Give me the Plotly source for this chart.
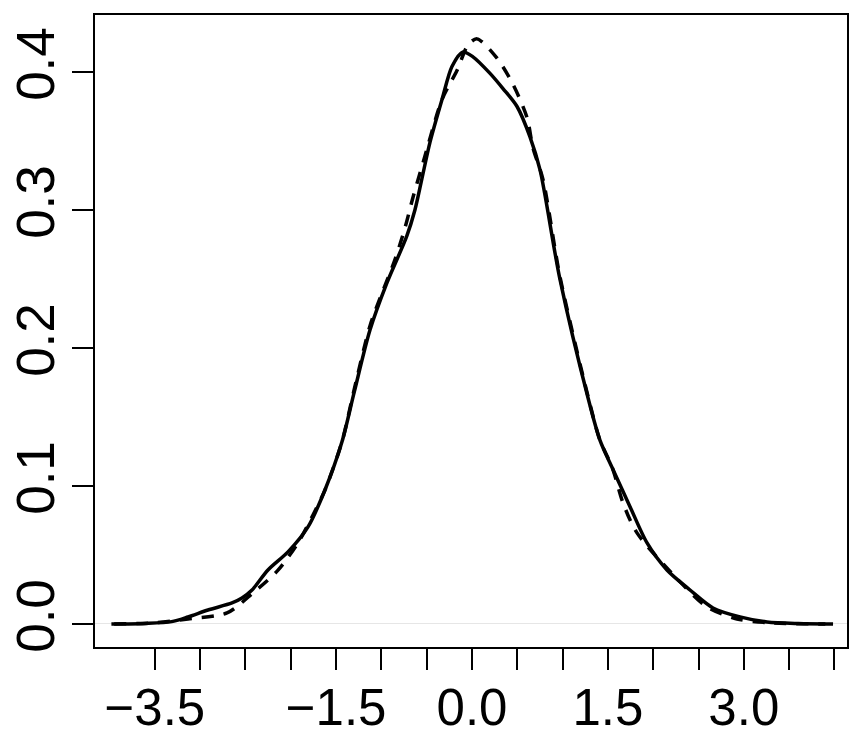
import plotly.graph_objects as go

# solid curve (density estimate)
solid_x = [-3.98, -3.6, -3.315, -3.135, -2.914, -2.649, -2.539, -2.428, -2.252,
           -2.031, -1.81, -1.623, -1.435, -1.3, -1.126, -0.94, -0.72, -0.63,
           -0.555, -0.464, -0.331, -0.221, -0.099, 0.011, 0.199, 0.342, 0.497,
           0.64, 0.751, 0.97, 1.284, 1.413, 1.556, 1.744, 1.932, 2.152, 2.406,
           2.66, 2.958, 3.256, 3.6, 3.985]
solid_y = [0.0, 0.0004, 0.0017, 0.0051, 0.0101, 0.0152, 0.0188, 0.0246, 0.0391,
           0.0522, 0.0703, 0.0971, 0.132, 0.168, 0.213, 0.247, 0.281, 0.300,
           0.322, 0.349, 0.380, 0.404, 0.4145, 0.411, 0.399, 0.388, 0.375,
           0.353, 0.329, 0.250, 0.163, 0.133, 0.112, 0.085, 0.0587, 0.0391, 0.0246,
           0.0116, 0.0051, 0.0014, 0.0003, 0.0]

# dashed curve (second density estimate)
dashed_x = [-3.95, -3.5, -3.135, -2.704, -2.417, -2.141, -1.921, -1.755, -1.623,
            -1.435, -1.3, -1.126, -0.98, -0.85, -0.74, -0.648, -0.541, -0.331,
            -0.166, -0.044, 0.055, 0.276, 0.453, 0.607, 0.673, 0.784, 0.97, 1.28,
            1.413, 1.55, 1.667, 1.821, 2.329, 2.594, 2.925, 3.3, 3.9]
dashed_y = [0.0, 0.0008, 0.0036, 0.008, 0.0225, 0.039, 0.0587, 0.079, 0.097,
            0.132, 0.170, 0.216, 0.242, 0.264, 0.287, 0.310, 0.334, 0.380,
            0.401, 0.4196, 0.424, 0.410, 0.391, 0.367, 0.345, 0.322, 0.252, 0.165,
            0.133, 0.113, 0.0877, 0.066, 0.0283, 0.0123, 0.0036, 0.0008, 0.0]

x_ticks = [-3.5, -3.0, -2.5, -2.0, -1.5, -1.0, -0.5, 0.0, 0.5, 1.0, 1.5, 2.0,
           2.5, 3.0, 3.5, 4.0]
x_labels = ["\u22123.5", "", "", "", "\u22121.5", "", "", "0.0", "", "", "1.5",
            "", "", "3.0", "", ""]
y_ticks = [0.0, 0.1, 0.2, 0.3, 0.4]
y_labels = ["0.0", "0.1", "0.2", "0.3", "0.4"]

fig = go.Figure()
fig.add_trace(
    go.Scatter(
        x=dashed_x,
        y=dashed_y,
        mode="lines",
        line=dict(color="black", width=3.5, dash="12px,10px", shape="spline", smoothing=0.8),
        showlegend=False,
    )
)
fig.add_trace(
    go.Scatter(
        x=solid_x,
        y=solid_y,
        mode="lines",
        line=dict(color="black", width=3.5, shape="spline", smoothing=0.8),
        showlegend=False,
    )
)

family = "Liberation Sans, Arial, sans-serif"
xfont = dict(family=family, size=51, color="black")
yfont = dict(family=family, size=53, color="black")

# page body has an 8px margin, so the figure is sized and shifted for it
fig.update_layout(
    width=854,
    height=738,
    margin=dict(l=87, r=15, t=7, b=99),
    paper_bgcolor="white",
    plot_bgcolor="white",
    font=xfont,
)
fig.update_xaxes(
    range=[-4.161, 4.139],
    automargin=False,
    tickmode="array",
    tickvals=x_ticks,
    ticktext=x_labels,
    ticks="outside",
    ticklen=21,
    tickwidth=2,
    tickcolor="black",
    ticklabelstandoff=-6,
    showgrid=False,
    zeroline=False,
    showline=True,
    linecolor="black",
    linewidth=2,
    mirror=True,
    tickfont=xfont,
)
fig.update_yaxes(
    range=[-0.0167, 0.4413],
    automargin=False,
    tickmode="array",
    tickvals=y_ticks,
    ticktext=y_labels,
    ticks="outside",
    ticklen=21,
    tickwidth=2,
    tickcolor="black",
    tickangle=-90,
    ticklabelstandoff=-3,
    showgrid=False,
    zeroline=True,
    zerolinecolor="#e6e6e6",
    zerolinewidth=1,
    showline=True,
    linecolor="black",
    linewidth=2,
    mirror=True,
    tickfont=yfont,
)

fig.write_html("out.html")
